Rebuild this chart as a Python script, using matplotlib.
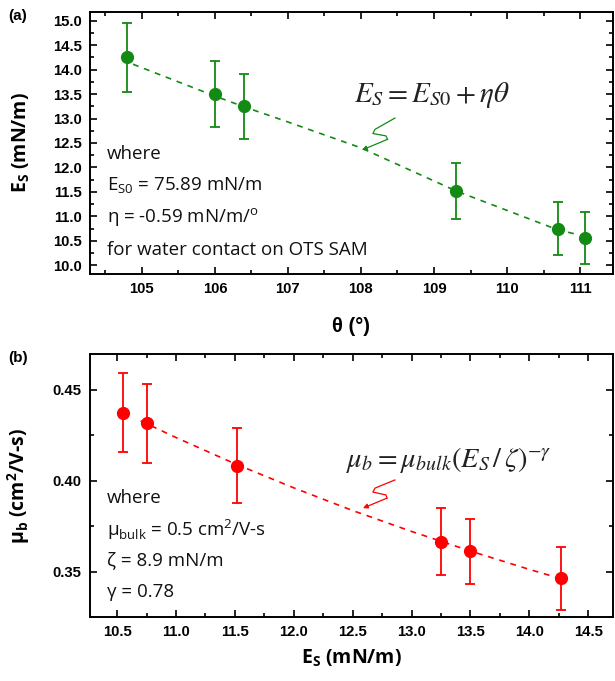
import matplotlib
matplotlib.use("Agg")
import matplotlib.pyplot as plt
from matplotlib.ticker import MultipleLocator, FormatStrFormatter

# ---- data panel (a) ----
theta = [104.8, 106.0, 106.4, 109.3, 110.7, 111.07]
Es_a = [14.25, 13.50, 13.25, 11.52, 10.75, 10.55]
Es_a_err = [0.71, 0.68, 0.66, 0.58, 0.54, 0.53]
fit_a_theta = [104.88, 106.0, 106.4, 107.0, 108.0, 109.3, 110.0, 110.7, 110.93]
fit_a_Es = [14.11, 13.46, 13.24, 12.93, 12.40, 11.52, 11.12, 10.72, 10.64]

# ---- data panel (b) ----
Es_b = [10.55, 10.75, 11.52, 13.25, 13.50, 14.27]
mub = [0.4375, 0.4316, 0.4083, 0.3664, 0.3612, 0.3463]
mub_err = [0.0219, 0.0219, 0.0206, 0.0184, 0.0180, 0.0173]
fit_b_Es = [10.70, 11.0, 11.5, 12.0, 12.5, 13.0, 13.5, 14.0, 14.22]
fit_b_mu = [0.4330, 0.4238, 0.4094, 0.3961, 0.3836, 0.3721, 0.3613, 0.3512, 0.3470]

GREEN = "#138a13"
RED = "#ff0000"
TICKFONT = "Liberation Sans"
TEXTFONT = ["Open Sans", "DejaVu Sans"]
LABELFONT = ["Open Sans", "DejaVu Sans"]

plt.rcParams["font.family"] = ["Liberation Sans", "DejaVu Sans"]
plt.rcParams["mathtext.fontset"] = "custom"
plt.rcParams["mathtext.rm"] = "Liberation Sans"

fig = plt.figure(figsize=(6.15, 6.81), dpi=100)
axa = fig.add_axes([0.1463, 0.5977, 0.8504, 0.3847])
axb = fig.add_axes([0.1463, 0.0940, 0.8504, 0.3862])


def style(ax):
    for s in ax.spines.values():
        s.set_linewidth(1.4)
    ax.tick_params(which="both", direction="in", top=True, right=True,
                   width=1.2, labelsize=10.7, pad=6)
    ax.tick_params(which="major", length=5)
    ax.tick_params(which="minor", length=3)
    for lab in ax.get_xticklabels() + ax.get_yticklabels():
        lab.set_fontweight("bold")
        lab.set_family(TICKFONT)


# ---- panel (a) ----
axa.plot(fit_a_theta, fit_a_Es, ls=(0, (3.5, 3.5)), color=GREEN, lw=1.2)
axa.errorbar(theta, Es_a, yerr=Es_a_err, fmt="o", color=GREEN, ms=8.5,
             capsize=3.5, elinewidth=1.3, capthick=1.3)
axa.set_xlim(104.29, 111.45)
axa.set_ylim(9.82, 15.18)
axa.xaxis.set_major_locator(MultipleLocator(1))
axa.xaxis.set_minor_locator(MultipleLocator(0.5))
axa.yaxis.set_major_locator(MultipleLocator(0.5))
axa.yaxis.set_minor_locator(MultipleLocator(0.25))
axa.yaxis.set_major_formatter(FormatStrFormatter("%.1f"))
style(axa)
axa.set_xlabel("θ (°)", fontsize=14.5, fontweight="bold", family="Liberation Sans")
axa.xaxis.set_label_coords(0.5, -0.164)
axa.set_ylabel(r"E$_\mathregular{S}$ (mN/m)", fontsize=14, fontweight="bold",
               family=LABELFONT)
axa.yaxis.set_label_coords(-0.111, 0.5)

a_lines = ["where", r"E$_\mathregular{S0}$ = 75.89 mN/m",
           r"η = -0.59 mN/m/$^\mathregular{o}$", "for water contact on OTS SAM"]
for i, t in enumerate(a_lines):
    axa.text(0.032, 0.458 - i * 0.122, t, transform=axa.transAxes,
             fontsize=13.5, family=TEXTFONT, va="center", ha="left", color="#111111")

axa.text(0.505, 0.685, r"$E_S = E_{S0} + \eta\theta$", transform=axa.transAxes,
         fontsize=21, math_fontfamily="stix", va="center", ha="left", color="#222222")
sq_a = [(0.583, 0.595), (0.545, 0.552), (0.541, 0.536), (0.566, 0.527), (0.569, 0.514)]
axa.plot([p[0] for p in sq_a], [p[1] for p in sq_a], transform=axa.transAxes,
         color=GREEN, lw=0.9)
axa.annotate("", xy=(0.520, 0.473), xytext=sq_a[-1], xycoords="axes fraction",
             textcoords="axes fraction",
             arrowprops=dict(arrowstyle="-|>", color=GREEN, lw=0.9,
                             mutation_scale=7, shrinkA=0, shrinkB=0))

# ---- panel (b) ----
axb.plot(fit_b_Es, fit_b_mu, ls=(0, (3.5, 3.5)), color=RED, lw=1.2)
axb.errorbar(Es_b, mub, yerr=mub_err, fmt="o", color=RED, ms=8.5,
             capsize=3.5, elinewidth=1.3, capthick=1.3)
axb.set_xlim(10.27, 14.71)
axb.set_ylim(0.325, 0.4698)
axb.xaxis.set_major_locator(MultipleLocator(0.5))
axb.xaxis.set_minor_locator(MultipleLocator(0.25))
axb.xaxis.set_major_formatter(FormatStrFormatter("%.1f"))
axb.yaxis.set_major_locator(MultipleLocator(0.05))
axb.yaxis.set_minor_locator(MultipleLocator(0.025))
axb.yaxis.set_major_formatter(FormatStrFormatter("%.2f"))
style(axb)
axb.set_xlabel(r"E$_\mathregular{S}$ (mN/m)", fontsize=14, fontweight="bold",
               family=LABELFONT)
axb.xaxis.set_label_coords(0.5, -0.118)
axb.set_ylabel(r"μ$_\mathregular{b}$ (cm$^\mathregular{2}$/V-s)", fontsize=14,
               fontweight="bold", family=LABELFONT)
axb.yaxis.set_label_coords(-0.111, 0.5)

b_lines = ["where", r"μ$_\mathregular{bulk}$ = 0.5 cm$^\mathregular{2}$/V-s",
           "ζ = 8.9 mN/m", "γ = 0.78"]
for i, t in enumerate(b_lines):
    axb.text(0.032, 0.452 - i * 0.119, t, transform=axb.transAxes,
             fontsize=13.5, family=TEXTFONT, va="center", ha="left", color="#111111")

axb.text(0.490, 0.597, r"$\mu_b = \mu_{bulk}\left(E_S\,/\,\zeta\right)^{-\gamma}$",
         transform=axb.transAxes, fontsize=20.5, math_fontfamily="stix",
         va="center", ha="left", color="#222222")
sq_b = [(0.583, 0.521), (0.545, 0.490), (0.541, 0.475), (0.566, 0.464), (0.568, 0.452)]
axb.plot([p[0] for p in sq_b], [p[1] for p in sq_b], transform=axb.transAxes,
         color=RED, lw=0.9)
axb.annotate("", xy=(0.522, 0.414), xytext=sq_b[-1], xycoords="axes fraction",
             textcoords="axes fraction",
             arrowprops=dict(arrowstyle="-|>", color=RED, lw=0.9,
                             mutation_scale=7, shrinkA=0, shrinkB=0))

fig.text(8 / 615, 1 - 16 / 681, "(a)", fontsize=11, fontweight="bold", va="center")
fig.text(8 / 615, 1 - 358 / 681, "(b)", fontsize=11, fontweight="bold", va="center")

fig.savefig("out.png", dpi=100)
